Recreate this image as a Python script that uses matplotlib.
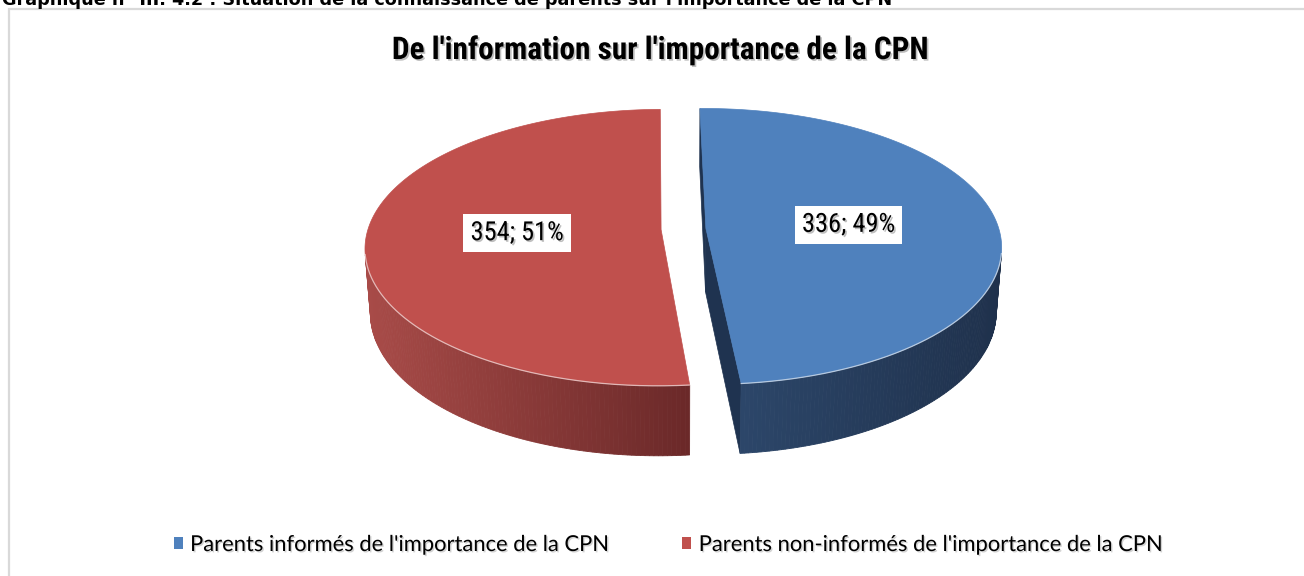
import numpy as np
import matplotlib
matplotlib.use('Agg')
import matplotlib.pyplot as plt
from matplotlib.patches import Polygon, Patch
from matplotlib import font_manager as fm
import matplotlib.patheffects as pe

# ---------------- data ----------------
values = [336, 354]
legend_labels = ["Parents informés de l'importance de la CPN",
                 "Parents non-informés de l'importance de la CPN"]
top_colors = ['#4f81bd', '#c0504d']
side_light = ['#2c4669', '#a84b48']
side_dark = ['#1f314c', '#6b2929']
cut_colors = ['#1f3350', '#6b2929']
title = "De l'information sur l'importance de la CPN"
caption = "Graphique n° III. 4.2 : Situation de la connaissance de parents sur l'importance de la CPN"


def pick(cands):
    for c in cands:
        try:
            fm.findfont(fm.FontProperties(family=c), fallback_to_default=False)
            return c
        except Exception:
            pass
    return 'DejaVu Sans'


narrow = pick(['Liberation Sans Narrow', 'Roboto Condensed', 'DejaVu Sans'])
legfont = pick(['Lato', 'Open Sans', 'DejaVu Sans'])

W, H = 1304, 576
fig = plt.figure(figsize=(W / 100, H / 100), dpi=100)
ax = fig.add_axes([0, 0, 1, 1])
ax.set_xlim(0, W)
ax.set_ylim(H, 0)
ax.axis('off')

# frame (top + left border of the chart area)
ax.plot([8.5, 8.5, W + 5], [H + 5, 8.5, 8.5], color='#d9d9d9', lw=1.6,
        solid_joinstyle='miter', zorder=1)

# cut caption at top
ax.text(2, 5, caption, fontsize=12.7, fontweight='bold', family='DejaVu Sans',
        ha='left', va='baseline', color='black', zorder=5)

# ---------------- 3D pie geometry ----------------
K = 293.0
D = 6.8
elev = np.radians(27.6)
cx0, cy0 = 683.5, 229.0
h = 0.249
explode = 0.0766
start = -0.75
cam = np.array([0.0, -D * np.cos(elev), D * np.sin(elev)])


def proj(x, y, z):
    u = x
    v = y * np.sin(elev) + z * np.cos(elev)
    w = y * np.cos(elev) - z * np.sin(elev)
    s = D / (D + w)
    return cx0 + K * u * s, cy0 - K * v * s


def mix(c1, c2, t):
    a = np.array(matplotlib.colors.to_rgb(c1))
    b = np.array(matplotlib.colors.to_rgb(c2))
    return tuple(a * (1 - t) + b * t)


vals = np.array(values, dtype=float)
spans = 360.0 * vals / vals.sum()
bounds = start + np.concatenate([[0], np.cumsum(spans)])
shadow = [pe.SimplePatchShadow(offset=(1.2, -1.2), shadow_rgbFace='0.45', alpha=0.45), pe.Normal()]

for i in range(len(values)):
    a0, a1 = np.radians(bounds[i]), np.radians(bounds[i + 1])
    mid = 0.5 * (a0 + a1)
    ox, oy = explode * np.sin(mid), explode * np.cos(mid)

    # cut faces
    for a, sign in ((a0, -1), (a1, 1)):
        n = sign * np.array([np.cos(a), -np.sin(a), 0.0])
        P = np.array([ox + 0.5 * np.sin(a), oy + 0.5 * np.cos(a), -h / 2])
        if np.dot(cam - P, n) > 0:
            pts = [proj(ox, oy, 0), proj(ox + np.sin(a), oy + np.cos(a), 0),
                   proj(ox + np.sin(a), oy + np.cos(a), -h), proj(ox, oy, -h)]
            ax.add_patch(Polygon(pts, closed=True, facecolor=cut_colors[i],
                                 edgecolor=cut_colors[i], lw=0.5, zorder=2))

    # outer side
    th = np.linspace(a0, a1, 240)
    quads = []
    front = []
    for t0, t1 in zip(th[:-1], th[1:]):
        tm = 0.5 * (t0 + t1)
        n = np.array([np.sin(tm), np.cos(tm), 0.0])
        P = np.array([ox + np.sin(tm), oy + np.cos(tm), -h / 2])
        if np.dot(cam - P, n) > 0:
            q = [proj(ox + np.sin(t0), oy + np.cos(t0), 0), proj(ox + np.sin(t1), oy + np.cos(t1), 0),
                 proj(ox + np.sin(t1), oy + np.cos(t1), -h), proj(ox + np.sin(t0), oy + np.cos(t0), -h)]
            quads.append(q)
            front.append((t0, t1))
    if quads:
        xs = np.array([np.mean([p[0] for p in q]) for q in quads])
        xmin, xmax = xs.min(), xs.max()
        for q, xm in zip(quads, xs):
            t = (xm - xmin) / max(xmax - xmin, 1e-6)
            c = mix(side_light[i], side_dark[i], t)
            ax.add_patch(Polygon(q, closed=True, facecolor=c, edgecolor=c, lw=0.6, zorder=2))

    # top face
    tt = np.linspace(a0, a1, 300)
    pts = [proj(ox, oy, 0)] + [proj(ox + np.sin(t), oy + np.cos(t), 0) for t in tt]
    ax.add_patch(Polygon(pts, closed=True, facecolor=top_colors[i], edgecolor=top_colors[i],
                         lw=0.5, zorder=3))
    # light rim on the front edge
    if front:
        tf = np.linspace(front[0][0], front[-1][1], 200)
        rim = np.array([proj(ox + np.sin(t), oy + np.cos(t), 0) for t in tf])
        ax.plot(rim[:, 0], rim[:, 1], color='white', lw=0.9, alpha=0.6, zorder=4)

    # data label
    lx, ly = proj(ox + 0.49 * np.sin(mid), oy + 0.49 * np.cos(mid), 0)
    pct = int(round(100 * vals[i] / vals.sum()))
    ax.text(lx, ly, f"{values[i]}; {pct}%", fontsize=19, family=narrow,
            ha='center', va='center', zorder=6, path_effects=shadow,
            bbox=dict(boxstyle='square,pad=0.27', facecolor='white', edgecolor='none'))

# title
ax.text(661, 50, title, fontsize=22.5, fontweight='bold', family=narrow,
        ha='center', va='center', zorder=6, path_effects=shadow)

# legend
handles = [Patch(facecolor=c, edgecolor='none') for c in top_colors]
leg = ax.legend(handles, legend_labels, ncol=2, loc='center',
                bbox_to_anchor=(668.5 / W, 1 - 545 / H), bbox_transform=fig.transFigure,
                frameon=False, handlelength=0.42, handleheight=0.42, handletextpad=0.33,
                columnspacing=3.3, prop=fm.FontProperties(family=legfont, size=15.8))
for t in leg.get_texts():
    t.set_path_effects([pe.SimplePatchShadow(offset=(1, -1), shadow_rgbFace='0.5', alpha=0.35), pe.Normal()])

fig.savefig('out.png', dpi=100)
